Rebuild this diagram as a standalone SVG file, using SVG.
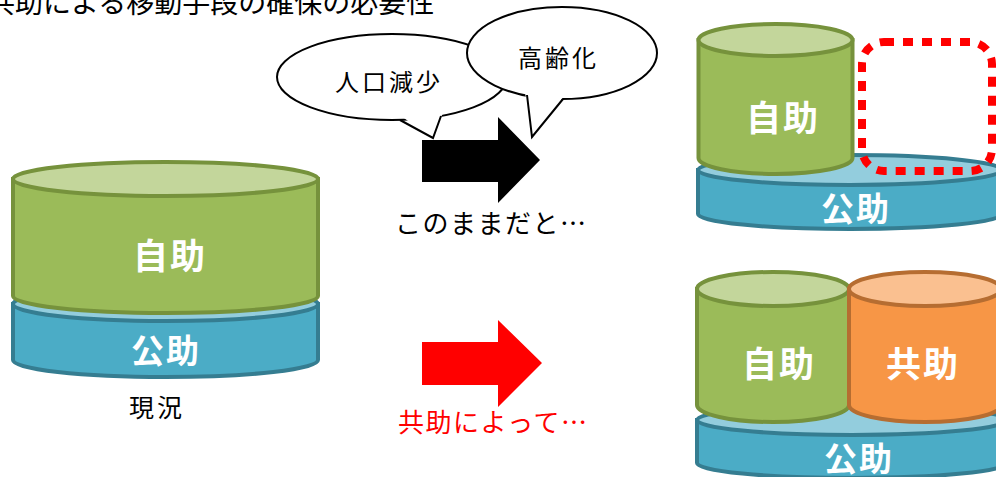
<svg xmlns="http://www.w3.org/2000/svg" width="996" height="477" viewBox="0 0 996 477">
<style>
.t{font-family:"Noto Sans CJK JP","Noto Sans CJK SC",sans-serif;fill:#000}
.lbl{font-family:"Noto Sans CJK JP","Noto Sans CJK SC",sans-serif;font-weight:bold;fill:#fff;text-anchor:middle}
.gb{fill:#9BBB59;stroke:#76923C;stroke-width:4}
.gt{fill:#C3D69B;stroke:#76923C;stroke-width:4}
.bb{fill:#4BACC6;stroke:#357D91;stroke-width:4}
.bt{fill:#93CDDD;stroke:#357D91;stroke-width:4}
.ob{fill:#F79646;stroke:#B66D31;stroke-width:4}
.ot{fill:#FAC090;stroke:#B66D31;stroke-width:4}
.bub{fill:#fff;stroke:#000;stroke-width:2}
</style>
<rect width="996" height="477" fill="#fff"/>
<text class="t" x="-13" y="13" font-size="28">共助による移動手段の確保の必要性</text>

<!-- left stack -->
<g id="now-kojo">
<path class="bb" d="M13,304 L13,360 A152.5,17 0 0 0 318,360 L318,304 Z"/>
<ellipse class="bt" cx="165.5" cy="304" rx="152.5" ry="17"/>
<text class="lbl" x="166" y="363" font-size="33" letter-spacing="2">公助</text>
</g>
<g id="now-jijo">
<path class="gb" d="M13,179 L13,296 A152.5,17 0 0 0 318,296 L318,179 Z"/>
<ellipse class="gt" cx="165.5" cy="179" rx="152.5" ry="17"/>
<text class="lbl" x="170" y="269" font-size="35" letter-spacing="2">自助</text>
</g>
<g id="now-label"><text class="t" x="129" y="417" font-size="25" letter-spacing="3">現況</text></g>

<!-- bubbles -->
<g id="bubble-jinkou">
<ellipse class="bub" cx="392" cy="77" rx="115" ry="43"/>
<polygon points="398,114 433,138 444,110" fill="#fff"/>
<polyline points="400,120 433,138 441,116" fill="none" stroke="#000" stroke-width="2"/>
<text class="t" x="335" y="91" font-size="24" letter-spacing="3">人口減少</text>
</g>
<g id="bubble-koureika">
<ellipse class="bub" cx="562" cy="53" rx="95" ry="46"/>
<polygon points="525,92 532,137 565,95" fill="#fff"/>
<polyline points="527,95 532,137 563,99" fill="none" stroke="#000" stroke-width="2"/>
<text class="t" x="518" y="67" font-size="24" letter-spacing="3">高齢化</text>
</g>

<!-- arrows -->
<g id="connectors">
<polygon points="422,140 498,140 498,117 540,160 498,203 498,182 422,182" fill="#000"/>
<polygon points="422,342 498,342 498,320 542,363 498,407 498,385 422,385" fill="#FF0000"/>
</g>
<g id="label-konomama"><text class="t" x="395" y="233" font-size="26" letter-spacing="1.5">このままだと…</text></g>
<g id="label-kyojo"><text class="t" x="398" y="432" font-size="26" letter-spacing="1.5" style="fill:#FF0000">共助によって…</text></g>

<!-- top right -->
<g id="future-kojo">
<path class="bb" d="M698,170 L698,214 A152,15 0 0 0 1002,214 L1002,170 Z"/>
<ellipse class="bt" cx="850" cy="170" rx="152" ry="15"/>
<text class="lbl" x="856" y="221" font-size="33" letter-spacing="2">公助</text>
</g>
<g id="future-jijo">
<path class="gb" d="M698.5,40 L698.5,158 A77,16 0 0 0 852.5,158 L852.5,40 Z"/>
<ellipse class="gt" cx="775.5" cy="40" rx="77" ry="16"/>
<text class="lbl" x="783" y="131" font-size="35" letter-spacing="2">自助</text>
</g>
<g id="future-gap">
<rect x="862" y="42" width="130" height="129" rx="22" ry="22" fill="none" stroke="#FF0000" stroke-width="8" stroke-dasharray="10 9"/>
</g>

<!-- bottom right -->
<g id="kyojo-kojo">
<path class="bb" d="M697,420 L697,463 A155,15 0 0 0 1007,463 L1007,420 Z"/>
<ellipse class="bt" cx="852" cy="420" rx="155" ry="15"/>
<text class="lbl" x="859" y="471" font-size="33" letter-spacing="2">公助</text>
</g>
<g id="kyojo-jijo">
<path class="gb" d="M697,289 L697,405 A76,17 0 0 0 849,405 L849,289 Z"/>
<ellipse class="gt" cx="773" cy="289" rx="76" ry="17"/>
<text class="lbl" x="779" y="377" font-size="35" letter-spacing="2">自助</text>
</g>
<g id="kyojo-kyojo">
<path class="ob" d="M849,289 L849,405 A76,17 0 0 0 1001,405 L1001,289 Z"/>
<ellipse class="ot" cx="925" cy="289" rx="76" ry="17"/>
<text class="lbl" x="923" y="377" font-size="35" letter-spacing="2">共助</text>
</g>
</svg>
